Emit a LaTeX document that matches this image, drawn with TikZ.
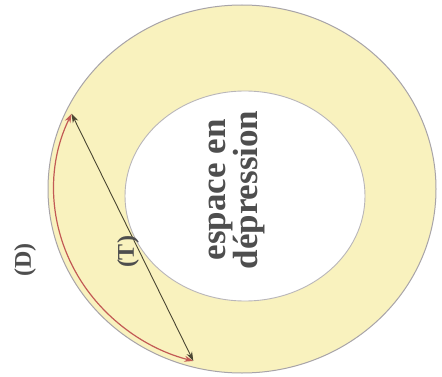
\documentclass[tikz,border=0pt]{standalone}
\usepackage{fontspec}
\setmainfont{Liberation Serif}
\usetikzlibrary{arrows.meta}
\definecolor{ringyellow}{HTML}{F9F2BE}
\definecolor{edgegrey}{HTML}{A8A4A8}
\definecolor{chordcol}{HTML}{4A4632}
\definecolor{arccol}{HTML}{C25A55}
\definecolor{txtgrey}{HTML}{4E4E4E}
\tikzset{
  ringedge/.style={draw=edgegrey, line width=1pt},
  mytip/.tip={Stealth[length=9pt,width=6pt]},
  lbl/.style={text=txtgrey, rotate=90, inner sep=0pt}
}
\begin{document}
\begin{tikzpicture}[x=1pt,y=1pt]
\useasboundingbox (0,0) rectangle (442,376);
\fill[white] (0,0) rectangle (442,376);
% ring
\path[ringedge, fill=ringyellow] (242,187) ellipse [x radius=194pt, y radius=184pt];
\path[draw=edgegrey!80, line width=0.9pt, fill=white] (245,180) ellipse [x radius=120pt, y radius=105pt];
% endpoints
\coordinate (A) at (71.6,262.2);
\coordinate (B) at (193.3,15.1);
% arc (D)
\draw[arccol, line width=1.2pt, mytip-mytip] (A) arc[start angle=155, end angle=255, x radius=188pt, y radius=178pt];
% chord (T)
\draw[chordcol, line width=0.9pt, mytip-mytip] (A) -- (B);
% labels
\node[lbl, font=\fontsize{24}{24}\selectfont\bfseries] (D) at (25,116) {(D)};
\node[lbl, font=\fontsize{24}{24}\selectfont\bfseries] (T) at (128,124) {(T)};
\node[lbl, align=center, font=\fontsize{35}{30}\selectfont\bfseries] (E) at (237,186) {espace en\\dépression};
\end{tikzpicture}
\end{document}
